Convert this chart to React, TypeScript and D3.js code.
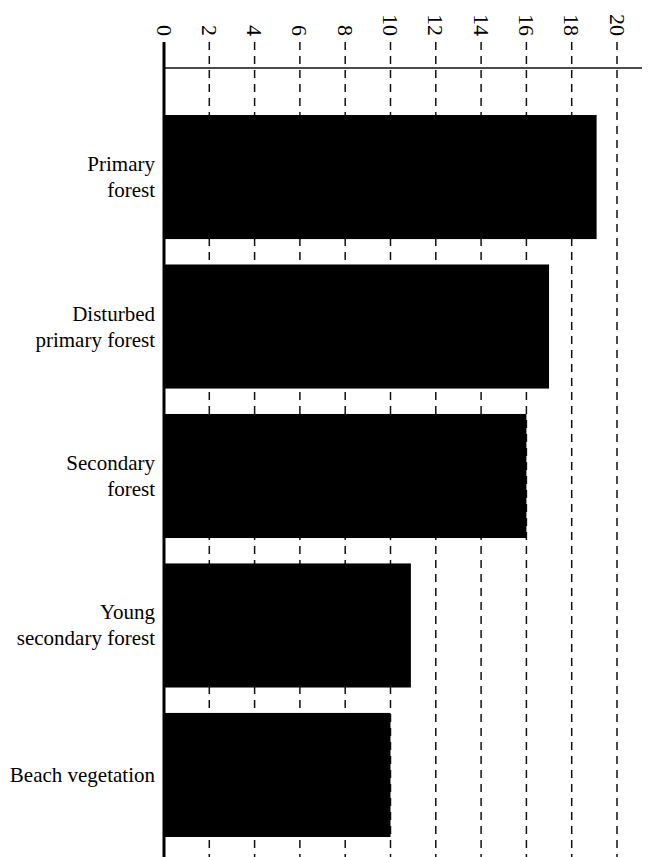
import { useEffect, useRef } from 'react';
import * as d3 from 'd3';

const categories = ['Primary forest', 'Disturbed primary forest', 'Secondary forest', 'Young secondary forest', 'Beach vegetation'];
const labelLines = [['Primary', 'forest'], ['Disturbed', 'primary forest'], ['Secondary', 'forest'], ['Young', 'secondary forest'], ['Beach vegetation']];
const values = [19.1, 17.0, 16.0, 10.9, 10.0];
const ticks = [0, 2, 4, 6, 8, 10, 12, 14, 16, 18, 20];

const W = 650;
const H = 857;

export default function App() {
  const svgRef = useRef<SVGSVGElement>(null);

  useEffect(() => {
    if (!svgRef.current) return;
    const svg = d3.select(svgRef.current);
    svg.selectAll('*').remove();

    const x = d3.scaleLinear().domain([0, 20]).range([164, 617]);
    const y = d3.scaleBand<string>().domain(categories).range([115, 837]).paddingInner(0.17).paddingOuter(0);
    const font = '"Liberation Serif", "Times New Roman", serif';

    const g = svg.append('g');

    // dashed gridlines
    g.selectAll('.grid')
      .data(ticks.filter(t => t > 0))
      .join('line')
      .attr('x1', d => x(d))
      .attr('x2', d => x(d))
      .attr('y1', 42)
      .attr('y2', H)
      .attr('stroke', '#111')
      .attr('stroke-width', 1.5)
      .attr('stroke-dasharray', '8,6');

    // bars
    g.selectAll('.bar')
      .data(categories)
      .join('rect')
      .attr('x', x(0))
      .attr('y', d => y(d)!)
      .attr('width', (d, i) => x(values[i]) - x(0))
      .attr('height', y.bandwidth())
      .attr('fill', '#000');

    // top axis line
    g.append('line')
      .attr('x1', x(0)).attr('x2', 642)
      .attr('y1', 68).attr('y2', 68)
      .attr('stroke', '#111').attr('stroke-width', 1.3);

    // left axis line
    g.append('line')
      .attr('x1', x(0)).attr('x2', x(0))
      .attr('y1', 42).attr('y2', H)
      .attr('stroke', '#000').attr('stroke-width', 3);

    // rotated tick labels
    g.selectAll('.tick')
      .data(ticks)
      .join('text')
      .attr('transform', d => `translate(${x(d)},36) rotate(90)`)
      .attr('text-anchor', 'end')
      .attr('dominant-baseline', 'central')
      .attr('font-family', font)
      .attr('font-size', 22)
      .attr('fill', '#000')
      .text(d => d);

    // category labels
    categories.forEach((c, i) => {
      const lines = labelLines[i];
      const cy = y(c)! + y.bandwidth() / 2;
      const lh = 26;
      const t = g.append('text')
        .attr('text-anchor', 'end')
        .attr('font-family', font)
        .attr('font-size', 21)
        .attr('fill', '#000');
      lines.forEach((ln, j) => {
        t.append('tspan')
          .attr('x', 155)
          .attr('y', cy + (j - (lines.length - 1) / 2) * lh + 7)
          .text(ln);
      });
    });
  }, []);

  return (
    <svg
      ref={svgRef}
      width={W}
      height={H}
      style={{ position: 'absolute', left: 0, top: 0, background: '#fff' }}
    />
  );
}
